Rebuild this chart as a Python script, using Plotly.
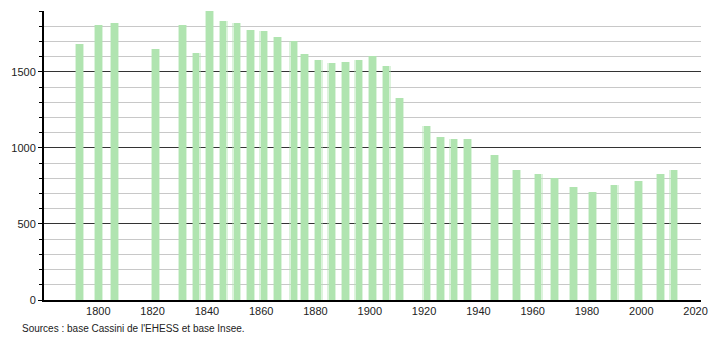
import plotly.graph_objects as go

years = [1793, 1800, 1806, 1821, 1831, 1836, 1841, 1846, 1851, 1856, 1861, 1866,
         1872, 1876, 1881, 1886, 1891, 1896, 1901, 1906, 1911, 1921, 1926, 1931,
         1936, 1946, 1954, 1962, 1968, 1975, 1982, 1990, 1999, 2007, 2012]
population = [1684, 1809, 1822, 1649, 1809, 1625, 1906, 1836, 1822, 1776, 1770, 1730,
              1702, 1618, 1579, 1561, 1566, 1579, 1605, 1539, 1327, 1145, 1072, 1059,
              1059, 954, 855, 829, 800, 743, 710, 757, 783, 829, 855]
x_ticks = [1800, 1820, 1840, 1860, 1880, 1900, 1920, 1940, 1960, 1980, 2000, 2020]
y_ticks = [0, 500, 1000, 1500]
source_text = "Sources : base Cassini de l'EHESS et base Insee."

fig = go.Figure()
# soft halo to mimic blurred bar edges
fig.add_trace(go.Bar(x=years, y=population, width=3.3,
                     marker=dict(color="rgba(178,228,178,0.45)", line=dict(width=0)),
                     hoverinfo="skip"))
fig.add_trace(go.Bar(x=years, y=population, width=2.4,
                     marker=dict(color="#b0e4b0", line=dict(width=0))))

fig.update_layout(
    width=710, height=340,
    margin=dict(l=44, r=9, t=11, b=40, autoexpand=False),
    paper_bgcolor="white", plot_bgcolor="white",
    showlegend=False, barmode="overlay", bargap=0,
    font=dict(family="Liberation Sans, Arial, sans-serif", size=11, color="#222"),
    xaxis=dict(range=[1780, 2022], tickvals=x_ticks, showgrid=False,
               showline=True, linecolor="black", linewidth=1.5, ticks="",
               zeroline=False, automargin=False,
               tickfont=dict(size=11, color="#222")),
    yaxis=dict(range=[0, 1900], tickvals=y_ticks, showgrid=True,
               gridcolor="#333", gridwidth=1, showline=True, linecolor="black",
               linewidth=2, ticks="outside", ticklen=4, tickcolor="black",
               zeroline=False, automargin=False,
               tickfont=dict(size=11, color="#222"),
               minor=dict(dtick=100, showgrid=True, gridcolor="#c8c8c8",
                          gridwidth=1, ticks="outside", ticklen=3,
                          tickcolor="black")),
    annotations=[dict(text=source_text, xref="paper", yref="paper",
                      x=-24/657, y=-28/289, xanchor="left",
                      yanchor="middle", showarrow=False,
                      font=dict(size=10, color="#222"))],
)
fig.write_html("out.html")
